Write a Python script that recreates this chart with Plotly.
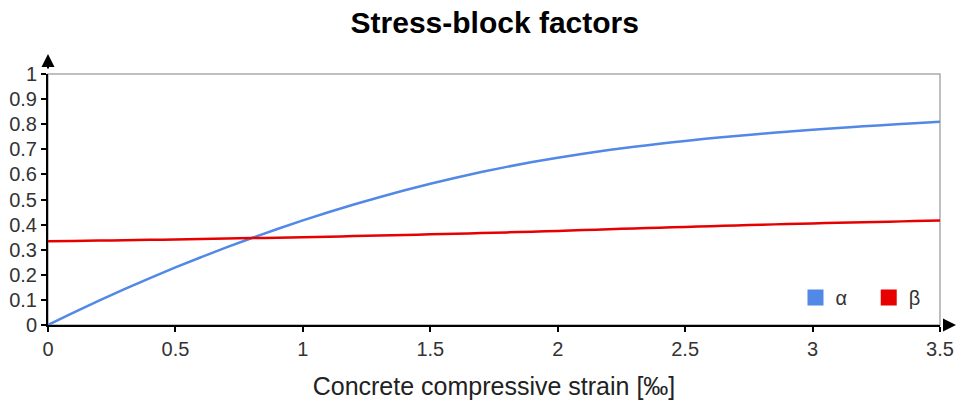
import plotly.graph_objects as go

# Concrete compressive strain [‰]
strain = [0.0, 0.1, 0.2, 0.3, 0.4, 0.5, 0.6, 0.7, 0.8, 0.9,
          1.0, 1.1, 1.2, 1.3, 1.4, 1.5, 1.6, 1.7, 1.8, 1.9,
          2.0, 2.1, 2.2, 2.3, 2.4, 2.5, 2.6, 2.7, 2.8, 2.9,
          3.0, 3.1, 3.2, 3.3, 3.4, 3.5]

# Stress-block area factor
alpha = [0.0, 0.0492, 0.0967, 0.1425, 0.1867, 0.2292, 0.27, 0.3092, 0.3467, 0.3825,
         0.4167, 0.4492, 0.48, 0.5092, 0.5367, 0.5625, 0.5867, 0.6092, 0.63, 0.6492,
         0.6667, 0.6825, 0.697, 0.7101, 0.7222, 0.7333, 0.7436, 0.7531, 0.7619, 0.7701,
         0.7778, 0.7849, 0.7917, 0.798, 0.8039, 0.8095]

# Stress-block centroid factor
beta = [0.3333, 0.3347, 0.3362, 0.3377, 0.3393, 0.3409, 0.3426, 0.3443, 0.3462, 0.348,
        0.35, 0.352, 0.3542, 0.3564, 0.3587, 0.3611, 0.3636, 0.3663, 0.369, 0.372,
        0.375, 0.3782, 0.3814, 0.3847, 0.3878, 0.3909, 0.3939, 0.3968, 0.3996, 0.4022,
        0.4048, 0.4072, 0.4095, 0.4118, 0.4139, 0.416]

x_ticks = [0, 0.5, 1, 1.5, 2, 2.5, 3, 3.5]
y_ticks = [0, 0.1, 0.2, 0.3, 0.4, 0.5, 0.6, 0.7, 0.8, 0.9, 1]

BLUE = "#5288e6"
RED = "#e60000"
FONT = "Liberation Sans, Arial, sans-serif"

fig = go.Figure()

fig.add_trace(go.Scatter(x=strain, y=alpha, mode="lines", line=dict(color=BLUE, width=2.5, shape="spline"),
                         showlegend=False, hoverinfo="skip"))
fig.add_trace(go.Scatter(x=strain, y=beta, mode="lines", line=dict(color=RED, width=2.5, shape="spline"),
                         showlegend=False, hoverinfo="skip"))

# square legend swatches
fig.add_trace(go.Scatter(x=[None], y=[None], mode="markers", name="α\u00a0\u00a0\u00a0",
                         marker=dict(symbol="square", size=16, color=BLUE)))
fig.add_trace(go.Scatter(x=[None], y=[None], mode="markers", name="β",
                         marker=dict(symbol="square", size=16, color=RED)))

axis_common = dict(
    showgrid=False, zeroline=False, showline=True, linecolor="black", linewidth=2,
    ticks="outside", ticklen=5, tickwidth=1.5, tickcolor="black",
    tickfont=dict(family=FONT, size=20, color="#333333"),
)

fig.update_layout(
    width=957, height=403,
    margin=dict(l=48, r=17, t=74, b=78, autoexpand=False),
    paper_bgcolor="white", plot_bgcolor="white",
    title=dict(text="<b>Stress-block factors</b>", x=0.517, xanchor="center", y=0.945, yanchor="middle",
               font=dict(family=FONT, size=30, color="black")),
    xaxis=dict(range=[0, 3.5], tickvals=x_ticks, ticktext=[f"{v:g}" for v in x_ticks],
               title=dict(text="Concrete compressive strain [‰]", standoff=18,
                          font=dict(family=FONT, size=25, color="#222222")),
               **axis_common),
    yaxis=dict(range=[0, 1], tickvals=y_ticks, ticktext=[f"{v:g}" for v in y_ticks], **axis_common),
    legend=dict(orientation="h", x=0.838, y=0.11, xanchor="left", yanchor="middle",
                bgcolor="rgba(0,0,0,0)", font=dict(family=FONT, size=20, color="#333333"),
                itemwidth=30, tracegroupgap=0),
    showlegend=True,
)

# gray frame around the plot area
fig.add_shape(type="rect", xref="paper", yref="paper", x0=0, y0=0, x1=1, y1=1,
              line=dict(color="#aaaaaa", width=1.5), layer="below")

# arrow heads at the ends of the axes
fig.add_annotation(x=1.018, y=0, xref="paper", yref="paper", ax=-14, ay=0, axref="pixel", ayref="pixel",
                   text="", showarrow=True, arrowhead=2, arrowsize=1.3, arrowwidth=2, arrowcolor="black")
fig.add_annotation(x=0, y=1.08, xref="paper", yref="paper", ax=0, ay=16, axref="pixel", ayref="pixel",
                   text="", showarrow=True, arrowhead=2, arrowsize=1.3, arrowwidth=2, arrowcolor="black")

fig.write_html("out.html")
